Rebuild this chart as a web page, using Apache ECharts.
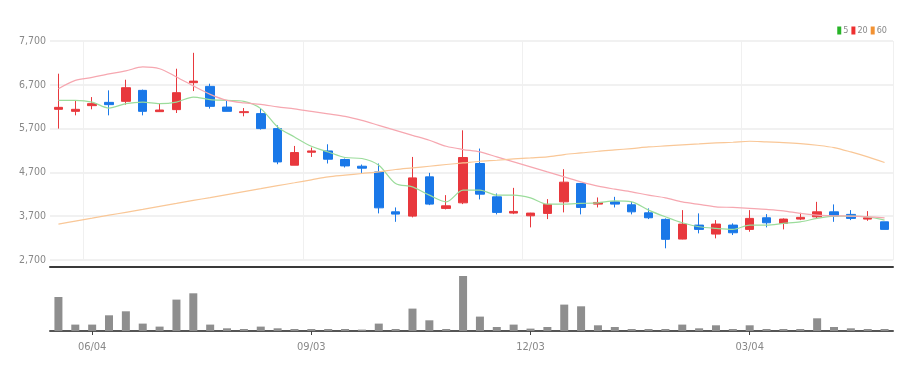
<!DOCTYPE html>
<html>
<head>
<meta charset="utf-8">
<script src="https://cdn.jsdelivr.net/npm/echarts@6/dist/echarts.min.js"></script>
<style>
html,body{margin:0;padding:0;background:#fff;}
#c{width:920px;height:372px;}
</style>
</head>
<body>
<div id="c"></div>
<script>
// Weekly categories
const dates = ['05/21','05/28','06/04','06/11','06/18','06/25','07/02','07/09','07/16','07/23',
  '07/30','08/06','08/13','08/20','08/27','09/03','09/10','09/17','09/24','10/01',
  '10/08','10/15','10/22','10/29','11/05','11/12','11/19','11/26','12/03','12/10',
  '12/17','12/24','12/31','01/07','01/14','01/21','01/28','02/04','02/11','02/18',
  '02/25','03/04','03/11','03/18','03/25','04/01','04/08','04/15','04/22','04/29'];
const tickLabels = ['06/04','09/03','12/03','03/04'];
// open, close, low, high
const opens  = [6140,6094,6224,6299,6322,6573,6087,6133,6748,6664,6192,6065,6042,5700,4864,5160,5190,4994,4841,4711,3800,3702,4598,3878,4005,4903,4142,3771,3709,3764,4028,4447,3976,4028,3960,3777,3627,3178,3497,3292,3497,3399,3664,3536,3634,3686,3800,3741,3634,3572];
const closes = [6185,6140,6270,6247,6634,6094,6124,6520,6784,6208,6094,6087,5700,4939,5153,5190,5001,4848,4796,3891,3748,4575,3976,3937,5040,4203,3787,3809,3771,3969,4477,3900,4014,3976,3800,3664,3172,3520,3399,3520,3322,3650,3550,3634,3673,3800,3702,3650,3664,3399];
const lows   = [5700,6003,6140,6003,6247,6003,6087,6056,6557,6156,6094,5980,5677,4887,4864,5053,4903,4812,4689,3764,3572,3673,3953,3855,3976,4083,3741,3748,3445,3634,3787,3741,3900,3900,3741,3634,2967,3172,3308,3194,3270,3345,3445,3399,3611,3650,3572,3611,3595,3399];
const highs  = [6953,6338,6420,6573,6816,6590,6283,7067,7430,6725,6329,6169,6156,5775,5304,5267,5342,5017,4880,4903,3900,5053,4689,4181,5661,5244,4219,4347,3777,4090,4773,4460,4128,4142,4028,3878,3650,3839,3764,3611,3536,3839,3748,3650,3777,4028,3969,3839,3816,3572];
const ma5  = [6345,6345,6306,6169,6270,6306,6270,6306,6420,6361,6345,6322,6156,5737,5509,5297,5167,5040,5017,4864,4447,4370,4181,4028,4295,4295,4181,4181,4119,3976,3976,3992,4005,4051,4028,3839,3686,3550,3459,3422,3399,3497,3497,3536,3572,3650,3702,3702,3686,3611];
const ma20 = [6611,6800,6869,6949,7017,7108,7067,6880,6675,6482,6345,6288,6254,6197,6151,6094,6037,5980,5889,5775,5661,5547,5434,5297,5222,5167,5053,4939,4825,4711,4598,4484,4386,4317,4256,4181,4120,4028,3969,3914,3900,3878,3855,3823,3764,3725,3709,3702,3686,3664];
const ma60 = [3520,3588,3655,3723,3789,3857,3926,3992,4060,4126,4194,4263,4329,4397,4463,4531,4597,4636,4675,4711,4766,4803,4841,4880,4916,4955,4978,5008,5030,5053,5108,5144,5183,5213,5244,5281,5304,5327,5349,5372,5388,5411,5395,5381,5358,5320,5267,5167,5053,4926];
const volumes = [340000,64000,64000,157000,197000,74000,44000,314000,377000,64000,27000,20000,44000,27000,20000,20000,20000,20000,14000,74000,20000,224000,107000,20000,550000,144000,40000,64000,24000,40000,264000,247000,57000,40000,20000,20000,20000,64000,27000,57000,20000,57000,20000,20000,20000,127000,40000,27000,20000,20000];

const candleData = opens.map((o, i) => [o, closes[i], lows[i], highs[i]]);
const FONT = "'Liberation Sans Narrow','DejaVu Sans Condensed','Roboto Condensed',sans-serif";
const showTick = (idx, val) => tickLabels.includes(val);

const chart = echarts.init(document.getElementById('c'), null, {renderer: 'canvas'});
chart.setOption({
  animation: false,
  backgroundColor: '#fff',
  legend: {
    right: 28, top: 21,
    itemWidth: 4, itemHeight: 8, itemGap: 3,
    icon: 'rect',
    textStyle: {fontSize: 9, color: '#888', fontFamily: FONT, padding: [0,0,0,-3]},
    data: [
      {name: '5', itemStyle: {color: '#27b427'}},
      {name: '20', itemStyle: {color: '#ee3030'}},
      {name: '60', itemStyle: {color: '#f29233'}}
    ]
  },
  grid: [
    {left: 50, right: 27, top: 41, height: 219},
    {left: 50, right: 27, top: 268, height: 63}
  ],
  xAxis: [
    {
      type: 'category', gridIndex: 0, data: dates, boundaryGap: true,
      axisLine: {show: true, onZero: false, lineStyle: {color: '#3a3a3a', width: 2}},
      offset: 7,
      axisTick: {show: false},
      axisLabel: {show: false},
      splitLine: {show: true, interval: showTick, lineStyle: {color: '#f0f0f0', width: 1}}
    },
    {
      type: 'category', gridIndex: 1, data: dates, boundaryGap: true,
      axisLine: {show: true, onZero: false, lineStyle: {color: '#555', width: 2}},
      axisTick: {show: true, interval: showTick, alignWithLabel: true, length: 4, lineStyle: {color: '#444'}},
      axisLabel: {show: true, interval: showTick, color: '#888', fontSize: 11, fontFamily: FONT, margin: 11},
      splitLine: {show: false}
    }
  ],
  yAxis: [
    {
      type: 'value', gridIndex: 0, min: 2700, max: 7700, interval: 1000,
      axisLine: {show: false}, axisTick: {show: false},
      axisLabel: {color: '#888', fontSize: 10.5, fontFamily: FONT, margin: 4,
        formatter: v => v.toLocaleString('en-US')},
      splitLine: {show: true, lineStyle: {color: '#ececec', width: 1.5}}
    },
    {
      type: 'value', gridIndex: 1, min: 0, max: 630000,
      axisLine: {show: false}, axisTick: {show: false}, axisLabel: {show: false},
      splitLine: {show: false}
    }
  ],
  series: [
    {
      name: 'K', type: 'candlestick', xAxisIndex: 0, yAxisIndex: 0,
      data: candleData, barWidth: 9,
      itemStyle: {color: '#e8383d', color0: '#1a78e8', borderColor: '#e8383d', borderColor0: '#1a78e8', borderWidth: 1}
    },
    {
      name: '5', type: 'line', xAxisIndex: 0, yAxisIndex: 0, data: ma5,
      smooth: 0.3, showSymbol: false, symbol: 'none',
      itemStyle: {color: '#27b427'},
      lineStyle: {color: '#9bdc9b', width: 1.2}
    },
    {
      name: '20', type: 'line', xAxisIndex: 0, yAxisIndex: 0, data: ma20,
      smooth: 0.3, showSymbol: false, symbol: 'none',
      itemStyle: {color: '#ee3030'},
      lineStyle: {color: '#f6a7b0', width: 1.2}
    },
    {
      name: '60', type: 'line', xAxisIndex: 0, yAxisIndex: 0, data: ma60,
      smooth: 0.3, showSymbol: false, symbol: 'none',
      itemStyle: {color: '#f29233'},
      lineStyle: {color: '#f9c797', width: 1.2}
    },
    {
      name: 'V', type: 'bar', xAxisIndex: 1, yAxisIndex: 1, data: volumes,
      barWidth: 8,
      itemStyle: {color: '#8e8e8e'}
    }
  ]
});
</script>
</body>
</html>
